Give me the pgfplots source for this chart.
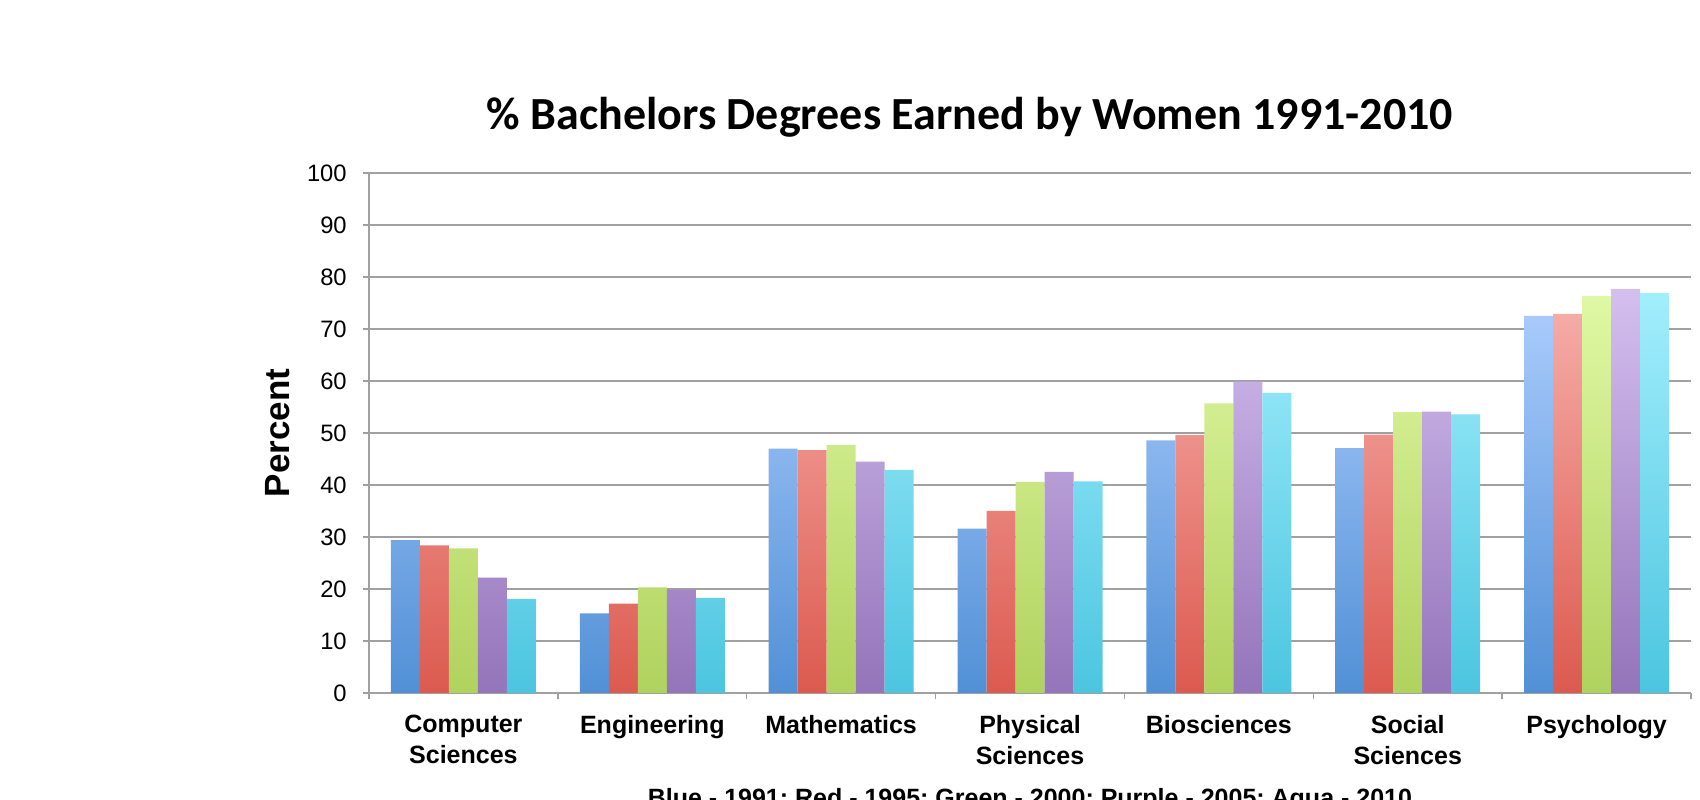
\documentclass[border=0pt]{standalone}
\usepackage{fontspec}
\setmainfont{Liberation Sans}
\newfontfamily\titlefont{Carlito}
\usepackage{pgfplots}
\pgfplotsset{compat=1.18}
\definecolor{bluetop}{HTML}{A8CAFB}
\definecolor{bluebot}{HTML}{5190D6}
\definecolor{redtop}{HTML}{F5ABA6}
\definecolor{redbot}{HTML}{DC5A4F}
\definecolor{greentop}{HTML}{DFF8A4}
\definecolor{greenbot}{HTML}{B0D25E}
\definecolor{purpletop}{HTML}{D4BFEF}
\definecolor{purplebot}{HTML}{9474BA}
\definecolor{aquatop}{HTML}{A2EEFC}
\definecolor{aquabot}{HTML}{4CC5E0}
\definecolor{gridgray}{HTML}{A0A0A0}
\begin{document}
\begin{tikzpicture}
\useasboundingbox (0pt,0pt) rectangle (680pt,320pt);
\clip (0pt,0pt) rectangle (680pt,320pt);
\node[font=\titlefont\bfseries\fontsize{18.4}{22}\selectfont, anchor=base] at (388pt,268pt) {\% Bachelors Degrees Earned by Women 1991-2010};
\begin{axis}[
  at={(147.6pt,42.8pt)}, anchor=south west,
  scale only axis, width=528.8pt, height=208pt,
  ybar=0pt, bar width=11.6pt,
  xmin=-0.5, xmax=6.5, ymin=0, ymax=100,
  ytick={0,10,...,100},
  xtick={0,...,6},
  xticklabels={{Computer\\Sciences},Engineering,Mathematics,{Physical\\Sciences},Biosciences,{Social\\Sciences},Psychology},
  major x tick style={draw=none},
  minor xtick={-0.5,0.5,...,6.5},
  minor x tick style={draw=gridgray, line width=0.6pt},
  minor tick length=2.6pt,
  major tick length=2.4pt,
  tick align=outside,
  axis x line*=bottom, axis y line*=left,
  axis line style={draw=gridgray, line width=0.7pt},
  ytick style={draw=gridgray, line width=0.6pt},
  ymajorgrids, grid style={draw=gridgray, line width=0.7pt},
  /pgf/number format/assume math mode=true,
  yticklabel style={font=\fontsize{9.5}{11}\selectfont, xshift=-3pt},
  xticklabel style={font=\bfseries\fontsize{10}{12.4}\selectfont, align=center, yshift=-3pt},
  ylabel={Percent},
  ylabel style={font=\bfseries\fontsize{14}{16}\selectfont},
  xlabel={Blue - 1991; Red - 1995; Green - 2000; Purple - 2005; Aqua - 2010},
  xlabel style={font=\bfseries\fontsize{10}{12}\selectfont, yshift=-2.6pt},
]
\addplot[draw=none, top color=bluetop, bottom color=bluebot] coordinates {(0,29.4) (1,15.3) (2,47.0) (3,31.6) (4,48.6) (5,47.1) (6,72.5)};
\addplot[draw=none, top color=redtop, bottom color=redbot] coordinates {(0,28.4) (1,17.2) (2,46.7) (3,35.0) (4,49.6) (5,49.7) (6,72.9)};
\addplot[draw=none, top color=greentop, bottom color=greenbot] coordinates {(0,27.8) (1,20.3) (2,47.7) (3,40.6) (4,55.7) (5,54.0) (6,76.3)};
\addplot[draw=none, top color=purpletop, bottom color=purplebot] coordinates {(0,22.2) (1,19.9) (2,44.5) (3,42.5) (4,59.9) (5,54.1) (6,77.7)};
\addplot[draw=none, top color=aquatop, bottom color=aquabot] coordinates {(0,18.1) (1,18.3) (2,42.9) (3,40.7) (4,57.7) (5,53.6) (6,76.9)};
\end{axis}
\end{tikzpicture}
\end{document}
